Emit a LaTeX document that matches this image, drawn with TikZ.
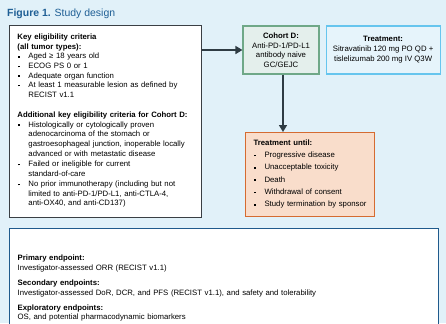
\documentclass[tikz,border=0pt]{standalone}
\usepackage{fontspec}
\setmainfont{Liberation Sans}
\usetikzlibrary{positioning, arrows.meta}

\definecolor{bgblue}{HTML}{E1F1F9}
\definecolor{titleblue}{HTML}{1F5F95}
\definecolor{framegray}{HTML}{3A3F44}
\definecolor{cohortgreen}{HTML}{6FA888}
\definecolor{cohortfill}{HTML}{E4EFEC}
\definecolor{treatline}{HTML}{66C5EE}
\definecolor{treatfill}{HTML}{E6F4FB}
\definecolor{untilline}{HTML}{D56B31}
\definecolor{untilfill}{HTML}{F9DDCB}
\definecolor{endline}{HTML}{1F5A8C}
\definecolor{arrowgray}{HTML}{2F3C44}

% bullet item: square mark, then the item's lines stacked
\newcommand{\bul}[2][0bp]{\par\vspace{#1}\noindent\makebox[11bp][l]{\hspace{0.5bp}\rule[1.3bp]{1.6bp}{1.6bp}}\begin{tabular}[t]{@{}l@{}}#2\end{tabular}\par}

\begin{document}
\begin{tikzpicture}[
						x=1bp, y=-1bp,
						every node/.style = {font=\fontsize{7.8}{9.3}\selectfont, inner sep=0pt},
						critbox/.style = {draw=framegray, line width=0.9bp, fill=white, anchor=north west, minimum width=192bp, minimum height=192bp, text width=176bp, align=left, font=\fontsize{7.8}{9.6}\selectfont},
						cohortbox/.style = {draw=cohortgreen, line width=1.1bp, fill=cohortfill, minimum width=76bp, minimum height=48bp, align=center, font=\fontsize{7.8}{9.6}\selectfont},
						treatbox/.style = {draw=treatline, line width=1.1bp, fill=treatfill, minimum width=114bp, minimum height=48bp, align=center, font=\fontsize{7.8}{10}\selectfont},
						untilbox/.style = {draw=untilline, line width=1.1bp, fill=untilfill, anchor=north west, minimum width=129bp, minimum height=84bp, text width=113bp, align=left},
						endbox/.style = {draw=endline, line width=1.4bp, fill=white, anchor=north west, minimum width=429bp, inner ysep=26.5bp, text width=413bp, align=left, font=\fontsize{7.8}{9.6}\selectfont},
						arr/.style = {draw=arrowgray, line width=1.6bp, -{Triangle[length=7bp, width=8bp]}}
					]
\path[use as bounding box, fill=bgblue] (0,0) rectangle (446,323);
\clip (0,0) rectangle (446,323);

\node[anchor=base west, font=\fontsize{10.5}{12}\selectfont, text=titleblue] (title) at (7,16.5) {\textbf{Figure 1.} Study design};

\node[critbox] (crit) at (9,25) {\textbf{Key eligibility criteria}\\\textbf{(all tumor types):}
	\bul{Aged ≥ 18 years old}
	\bul{ECOG PS 0 or 1}
	\bul{Adequate organ function}
	\bul{At least 1 measurable lesion as defined by\\RECIST v1.1}
	\vspace{11bp}
	\noindent\textbf{Additional key eligibility criteria for Cohort D:}
	\bul{Histologically or cytologically proven\\adenocarcinoma of the stomach or\\gastroesophageal junction, inoperable locally\\advanced or with metastatic disease}
	\bul{Failed or ineligible for current\\standard-of-care}
	\bul{No prior immunotherapy (including but not\\limited to anti-PD-1/PD-L1, anti-CTLA-4,\\anti-OX40, and anti-CD137)}};

\node[cohortbox] (cohort) at (281,50) {\textbf{Cohort D:}\\Anti-PD-1/PD-L1\\antibody naive\\GC/GEJC};
\node[treatbox] (treat) [right=6bp of cohort] {\textbf{Treatment:}\\Sitravatinib 120 mg PO QD +\\tislelizumab 200 mg IV Q3W};

\node[untilbox] (until) at (245,132) {\textbf{Treatment until:}
	\bul[3.1bp]{Progressive disease}
	\bul[3.1bp]{Unacceptable toxicity}
	\bul[3.1bp]{Death}
	\bul[3.1bp]{Withdrawal of consent}
	\bul[3.1bp]{Study termination by sponsor}};

\node[endbox] (endp) at (9,228) {\textbf{Primary endpoint:}\\Investigator-assessed ORR (RECIST v1.1)
	\par\vspace{5.5bp}
	\noindent\textbf{Secondary endpoints:}\\Investigator-assessed DoR, DCR, and PFS (RECIST v1.1), and safety and tolerability
	\par\vspace{5.5bp}
	\noindent\textbf{Exploratory endpoints:}\\OS, and potential pharmacodynamic biomarkers};

\draw[arr] (crit.east |- cohort.west) -- (cohort.west);
\draw[arr] ([xshift=2bp]cohort.south) -- ([xshift=2bp]cohort.south |- until.north);
\end{tikzpicture}
\end{document}
